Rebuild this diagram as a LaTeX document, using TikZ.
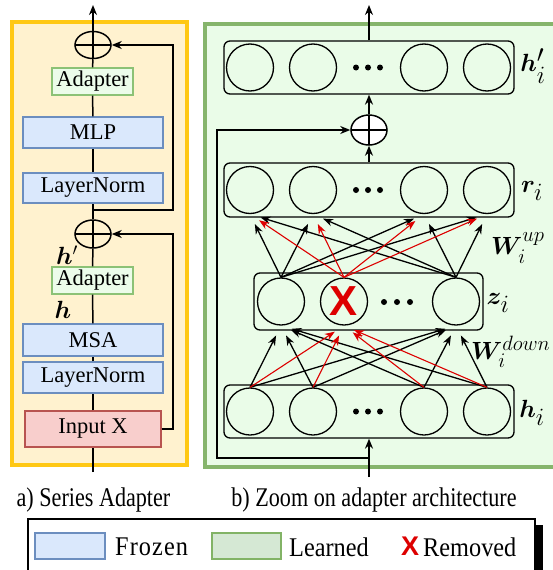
\documentclass[tikz,border=0pt]{standalone}
\usepackage{amsmath,bm}
\usepackage{graphicx}
\usepackage{fontspec}
\setmainfont{Liberation Serif}
\newfontfamily\xsans{Liberation Sans}
\usetikzlibrary{arrows.meta,shapes.geometric,calc}
\definecolor{ypanel}{HTML}{FFC814}
\definecolor{yfill}{HTML}{FFF2CF}
\definecolor{gpanel}{HTML}{86B56C}
\definecolor{gfill}{HTML}{EAFCE8}
\definecolor{frzb}{HTML}{6C8EBF}
\definecolor{frzf}{HTML}{DAE8FC}
\definecolor{adb}{HTML}{8CC276}
\definecolor{adf}{HTML}{ECFCEA}
\definecolor{inpb}{HTML}{B85450}
\definecolor{inpf}{HTML}{F8CECC}
\definecolor{lrnb}{HTML}{82B366}
\definecolor{lrnf}{HTML}{D5E8D4}
\definecolor{xred}{HTML}{DD0000}
\newcommand{\hsq}[2]{\scalebox{#1}[1]{#2}}
\tikzset{
  boxfont/.style={font=\fontsize{22.5}{22.5}\selectfont},
  frozen/.style={boxfont, draw=frzb, fill=frzf, line width=1.3pt, minimum width=140pt, inner sep=0pt},
  adapt/.style={boxfont, draw=adb, fill=adf, line width=1.3pt, minimum width=81pt, minimum height=27pt, inner sep=0pt},
  inputbox/.style={boxfont, draw=inpb, fill=inpf, line width=1.3pt, minimum width=136pt, minimum height=36pt, inner sep=0pt},
  oplus/.style={ellipse, draw, line width=1.5pt, minimum width=36pt, minimum height=27pt, inner sep=0pt,
    path picture={\draw[line width=1.5pt] (path picture bounding box.north) -- (path picture bounding box.south)
      (path picture bounding box.west) -- (path picture bounding box.east);}},
  neuron/.style={circle, draw, line width=1.3pt, minimum size=47pt, inner sep=0pt},
  layerbox/.style={draw, rounded corners=6pt, line width=1.3pt, inner sep=0pt},
  conn/.style={line width=1.5pt},
  arr/.style={line width=1.5pt, -{Stealth[length=10pt,width=8pt]}},
  marr/.style={line width=1.3pt, -{Stealth[length=10pt,width=7.5pt]}, shorten >=11pt},
  rarr/.style={marr, draw=xred, color=xred, line width=1.1pt},
  ndot/.style={circle, fill, minimum size=6pt, inner sep=0pt},
  mlabel/.style={font=\fontsize{34}{34}\selectfont, inner sep=0pt},
  wlabel/.style={font=\fontsize{28}{28}\selectfont, inner sep=0pt},
  caption/.style={font=\fontsize{27}{27}\selectfont, inner sep=0pt},
  legtext/.style={font=\fontsize{27}{27}\selectfont, inner sep=0pt, anchor=west},
}
\begin{document}
\begin{tikzpicture}[x=1pt,y=-1pt]
\useasboundingbox (0,0) rectangle (553,570);
\clip (0,0) rectangle (553,570);
\fill[white] (0,0) rectangle (553,570);

% ---------- left panel ----------
\draw[draw=ypanel, fill=yfill, line width=4pt] (11.5,22) rectangle (186.5,465);

\node[oplus, fill=yfill] (plus1) at (93,45) {};
\node[adapt] (ad1) at (92.5,81.5) {Adapter};
\node[frozen, minimum height=31pt] (mlp) at (93,132.5) {MLP};
\node[frozen, minimum height=30pt] (ln1) at (93,188) {LayerNorm};
\node[oplus, fill=yfill, minimum height=28pt] (plus2) at (93,234) {};
\node[adapt] (ad2) at (92.5,280.5) {Adapter};
\node[frozen, minimum height=32pt] (msa) at (93,340) {MSA};
\node[frozen, minimum height=31pt] (ln2) at (93,377.5) {LayerNorm};
\node[inputbox] (inp) at (93,429) {Input X};

\node[font=\fontsize{24}{24}\selectfont, inner sep=0pt] (hpl) at (67,255) {$\bm{h}'$};
\node[font=\fontsize{24}{24}\selectfont, inner sep=0pt] (hl) at (63,310) {$\bm{h}$};

\coordinate (inL) at (93,472);
\coordinate (topL) at (93,5);
\coordinate (br1) at (93,210);
\coordinate (fbx1) at (173,120);
\coordinate (fbx2) at (173,330);

\draw[conn] (inL) -- (inp);
\draw[conn] (inp) -- (ln2);
\draw[conn] (ln2) -- (msa);
\draw[conn] (msa) -- (ad2);
\draw[conn] (ad2) -- (plus2);
\draw[conn] (plus2) -- (ln1);
\draw[conn] (ln1) -- (mlp);
\draw[conn] (mlp) -- (ad1);
\draw[conn] (ad1) -- (plus1);
\draw[arr] (plus1) -- (topL);
\draw[arr] (br1) -| (fbx1) |- (plus1.east);
\draw[arr] (inp.east) -| (fbx2) |- (plus2.east);

% ---------- right panel ----------
\draw[draw=gpanel, fill=gfill, line width=4pt] (205,23.5) rectangle (570,467);

\node[layerbox, minimum width=290pt, minimum height=53pt] (Lhp) at (369,67.5) {};
\node[layerbox, minimum width=290pt, minimum height=54pt] (Lr) at (369,190) {};
\node[layerbox, minimum width=229pt, minimum height=57pt] (Lz) at (368.5,301.5) {};
\node[layerbox, minimum width=290pt, minimum height=53pt] (Lh) at (369,411.5) {};

\foreach \nm/\xx in {1/250,2/313,3/424,4/487}{
  \node[neuron] (hp\nm) at (\xx,67.5) {};
  \node[neuron] (r\nm) at (\xx,190) {};
  \node[neuron] (h\nm) at (\xx,411.5) {};
}
\foreach \xx in {356,368,380}{
  \node[ndot] at (\xx,67.5) {};
  \node[ndot] at (\xx,190) {};
  \node[ndot] at (\xx,411.5) {};
}
\node[neuron] (z1) at (281,301.5) {};
\node[neuron] (z2) at (344,301.5) {\xsans\bfseries\fontsize{42}{42}\selectfont\color{xred}X};
\node[neuron] (z3) at (456,301.5) {};
\foreach \xx in {384,397,410}{
  \node[ndot] at (\xx,302) {};
}

\node[mlabel] (lhp) at (533,66) {$\bm{h}'_i$};
\node[mlabel] (lr) at (532,191) {$\bm{r}_i$};
\node[mlabel] (lz) at (498,303) {$\bm{z}_i$};
\node[mlabel] (lh) at (532,413) {$\bm{h}_i$};
\node[wlabel, anchor=west] (wup) at (491,248) {$\bm{W}_i^{up}$};
\node[wlabel, anchor=west] (wdn) at (471,352) {$\bm{W}_i^{down}$};

\node[oplus, fill=white, minimum height=30pt] (plusR) at (369,130) {};

\coordinate (topR) at (369,5);
\coordinate (inR) at (369,477);
\coordinate (skipB) at (369,458);
\coordinate (skipL) at (217,300);

\draw[arr] (Lhp) -- (topR);
\draw[arr] (plusR) -- (Lhp);
\draw[arr] (Lr) -- (plusR);
\draw[arr] (inR) -- (Lh);
\draw[arr] (skipB) -| (skipL) |- (plusR.west);

% mesh: z -> r
\foreach \s in {z1,z3}{
  \foreach \t in {r1,r2,r3,r4}{
    \draw[marr] (\s.north) -- (\t.south);
  }
}
% mesh: h -> z
\foreach \s in {h1,h2,h3,h4}{
  \foreach \t in {z1,z3}{
    \draw[marr] (\s.north) -- (\t.south);
  }
}
\foreach \t in {r1,r2,r3,r4}{
  \draw[rarr] (z2.north) -- (\t.south);
}
\foreach \s in {h1,h2,h3,h4}{
  \draw[rarr] (\s.north) -- (z2.south);
}

% ---------- captions ----------
\node[caption] (capa) at (93.5,500) {\hsq{0.82}{a) Series Adapter}};
\node[caption] (capb) at (374,500) {\hsq{0.82}{b) Zoom on adapter architecture}};

% ---------- legend ----------
\fill (535,525) rectangle (543,580);
\draw[line width=1.5pt, fill=white] (28,519) rectangle (535,580);
\node[draw=frzb, fill=frzf, line width=2.5pt, minimum width=70pt, minimum height=26pt, inner sep=0pt] (sfrz) at (70,546) {};
\node[legtext] (tfrz) at (115,547) {\hsq{0.9}{F\kern1.2pt r\kern1.2pt o\kern1.2pt z\kern1.2pt e\kern1.2pt n}};
\node[draw=lrnb, fill=lrnf, line width=2.5pt, minimum width=69pt, minimum height=26pt, inner sep=0pt] (slrn) at (246.5,546) {};
\node[legtext] (tlrn) at (289,547) {\hsq{0.9}{Learned}};
\node[inner sep=0pt, text=xred, font=\xsans\bfseries\fontsize{27}{27}\selectfont] (lx) at (410,546) {X};
\node[legtext] (trem) at (423,547) {\hsq{0.9}{Removed}};
\end{tikzpicture}
\end{document}
